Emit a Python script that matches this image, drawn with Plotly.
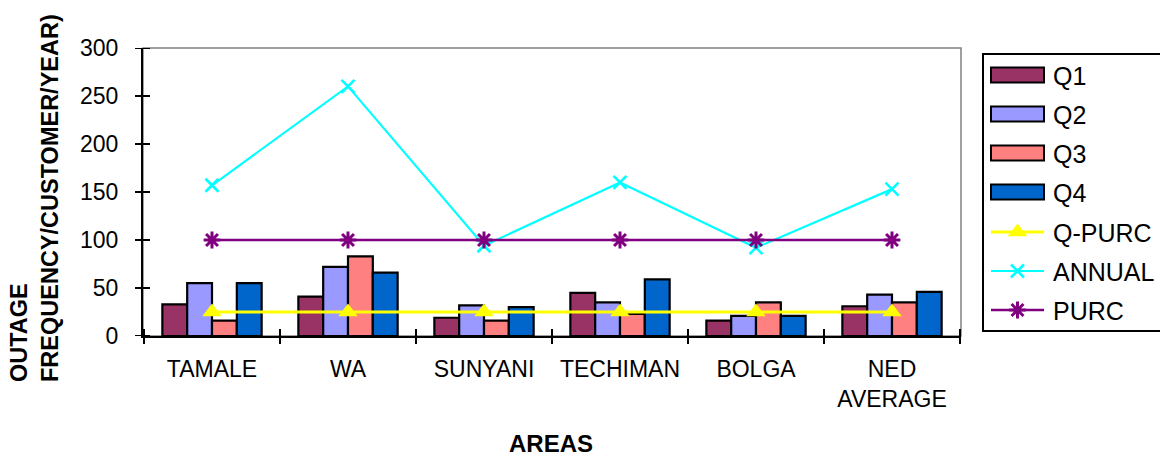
import plotly.graph_objects as go

# ---- data -------------------------------------------------------------
areas = ["TAMALE", "WA", "SUNYANI", "TECHIMAN", "BOLGA", "NED<br>AVERAGE"]
q1 = [33, 41, 19, 45, 16, 31]
q2 = [55, 72, 32, 35, 21, 43]
q3 = [16, 83, 16, 23, 35, 35]
q4 = [55, 66, 30, 59, 21, 46]
q_purc = [25, 25, 25, 25, 25, 25]
annual = [157, 260, 94, 160, 92, 153]
purc = [100, 100, 100, 100, 100, 100]
y_ticks = [0, 50, 100, 150, 200, 250, 300]

bar_names = ["Q1", "Q2", "Q3", "Q4"]
bar_colors = ["#993366", "#9999FF", "#FF8080", "#0066CC"]
line_names = ["Q-PURC", "ANNUAL", "PURC"]
line_colors = ["#FFFF00", "#00FFFF", "#800080"]
line_symbols = ["triangle-up", "x-thin", "asterisk"]

FONT = "Liberation Sans, Arial, sans-serif"
W, H = 1160, 456
PLOT_L, PLOT_R, PLOT_T, PLOT_B = 143, 961, 48, 336

fig = go.Figure()

# ---- bars -------------------------------------------------------------
for name, vals, col in zip(bar_names, [q1, q2, q3, q4], bar_colors):
    fig.add_trace(go.Bar(
        x=areas, y=vals, name=name, marker_color=col,
        marker_line=dict(color="black", width=2.2), showlegend=False,
    ))

# ---- lines ------------------------------------------------------------
line_styles = {
    "Q-PURC": dict(lw=3, size=17, mlw=0),
    "ANNUAL": dict(lw=2.2, size=13, mlw=2.6),
    "PURC": dict(lw=2.6, size=14, mlw=3),
}
for name, vals, col, sym in zip(line_names, [q_purc, annual, purc], line_colors, line_symbols):
    st = line_styles[name]
    fig.add_trace(go.Scatter(
        x=areas, y=vals, name=name, mode="lines+markers",
        line=dict(color=col, width=st["lw"]),
        marker=dict(symbol=sym, size=st["size"], color=col,
                    line=dict(color=col, width=st["mlw"])),
        showlegend=False,
    ))

# ---- hand-built legend (pixel overlay axes x2/y2) --------------------
LEG_X0, LEG_Y0, LEG_Y1 = 983, 54, 331
row_y = [75, 114, 153, 192, 232, 271, 310]
sample_x0, sample_x1, text_x = 991, 1044, 1051

shapes = []
annotations = []

shapes.append(dict(type="rect", xref="x2", yref="y2", x0=LEG_X0, x1=W + 10,
                   y0=LEG_Y0, y1=LEG_Y1, line=dict(color="black", width=2),
                   fillcolor="white", layer="below"))

for i, (name, col) in enumerate(zip(bar_names, bar_colors)):
    y = row_y[i]
    shapes.append(dict(type="rect", xref="x2", yref="y2", x0=sample_x0, x1=sample_x1,
                       y0=y - 7.5, y1=y + 7.5, fillcolor=col,
                       line=dict(color="black", width=2)))

for j, (name, col, sym) in enumerate(zip(line_names, line_colors, line_symbols)):
    y = row_y[4 + j]
    st = line_styles[name]
    fig.add_trace(go.Scatter(
        x=[sample_x0, (sample_x0 + sample_x1) / 2, sample_x1], y=[y, y, y],
        xaxis="x2", yaxis="y2", mode="lines",
        line=dict(color=col, width=st["lw"]), showlegend=False, hoverinfo="skip",
    ))
    fig.add_trace(go.Scatter(
        x=[(sample_x0 + sample_x1) / 2], y=[y],
        xaxis="x2", yaxis="y2", mode="markers",
        marker=dict(symbol=sym, size=st["size"], color=col,
                    line=dict(color=col, width=st["mlw"])),
        showlegend=False, hoverinfo="skip",
    ))

for i, name in enumerate(bar_names + line_names):
    annotations.append(dict(xref="x2", yref="y2", x=text_x, y=row_y[i] + 1,
                            text=name, showarrow=False, xanchor="left",
                            yanchor="middle",
                            font=dict(family=FONT, size=25, color="black")))

# ---- plot-area frame and crossing tick marks --------------------------
shapes.append(dict(type="rect", xref="x domain", yref="y domain", x0=0, x1=1,
                   y0=0, y1=1, line=dict(color="#808080", width=1.5), layer="below"))
for t in y_ticks:
    shapes.append(dict(type="line", xref="x domain", yref="y", xsizemode="pixel",
                       xanchor=0, x0=-8, x1=7, y0=t, y1=t,
                       line=dict(color="black", width=2)))
for k in range(len(areas) + 1):
    shapes.append(dict(type="line", xref="x", yref="y domain", ysizemode="pixel",
                       yanchor=0, y0=-8, y1=7, x0=k - 0.5, x1=k - 0.5,
                       line=dict(color="black", width=2)))

# ---- axis titles ------------------------------------------------------
annotations.append(dict(xref="x2", yref="y2", x=551, y=443, text="<b>AREAS</b>",
                        showarrow=False, xanchor="center", yanchor="middle",
                        font=dict(family=FONT, size=24, color="black")))
annotations.append(dict(xref="x2", yref="y2", x=34, y=384,
                        text="<b>OUTAGE<br>FREQUENCY/CUSTOMER/YEAR)</b>",
                        showarrow=False, textangle=-90, align="left",
                        xanchor="center", yanchor="bottom",
                        font=dict(family=FONT, size=23.5, color="black")))

fig.update_layout(
    width=W, height=H, autosize=False,
    margin=dict(l=0, r=0, t=0, b=0, autoexpand=False),
    paper_bgcolor="white", plot_bgcolor="rgba(0,0,0,0)",
    barmode="group", bargap=0.27, bargroupgap=0,
    font=dict(family=FONT, size=23, color="black"),
    xaxis=dict(domain=[PLOT_L / W, PLOT_R / W], type="category",
               showline=True, linecolor="black", linewidth=2,
               ticks="", showgrid=False, zeroline=False,
               tickfont=dict(family=FONT, size=23, color="black"),
               ticklabelstandoff=11, anchor="y", automargin=False),
    yaxis=dict(domain=[(H - PLOT_B) / H, (H - PLOT_T) / H], range=[0, 300],
               tickvals=y_ticks, showline=True, linecolor="black", linewidth=2,
               ticks="", showgrid=False, zeroline=False,
               tickfont=dict(family=FONT, size=23, color="black"),
               ticklabelstandoff=18, anchor="x", automargin=False),
    xaxis2=dict(domain=[0, 1], range=[0, W], visible=False, anchor="y2",
                fixedrange=True),
    yaxis2=dict(domain=[0, 1], range=[H, 0], visible=False, anchor="x2",
                fixedrange=True),
    shapes=shapes,
    annotations=annotations,
)

fig.write_html("out.html")
